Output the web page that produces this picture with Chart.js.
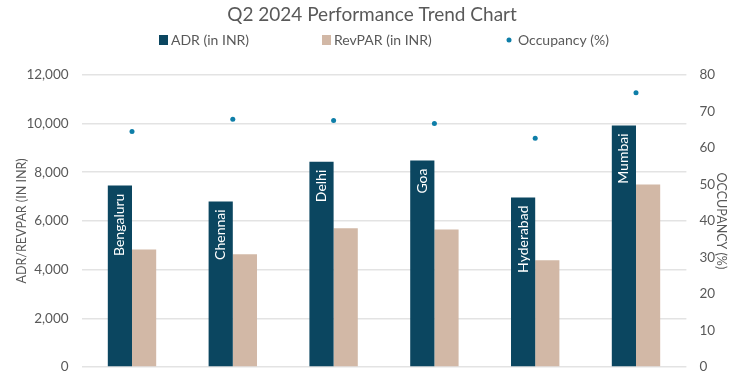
<!DOCTYPE html>
<html><head><meta charset="utf-8">
<script src="https://cdn.jsdelivr.net/npm/chart.js@4.4.1/dist/chart.umd.min.js"></script>
<style>html,body{margin:0;padding:0;background:#fff}#wrap{width:744px;height:380px}</style>
</head><body><div id="wrap"><canvas id="c" width="744" height="380"></canvas></div>
<script>
const categories = ["Bengaluru","Chennai","Delhi","Goa","Hyderabad","Mumbai"];
const adr = [7450, 6800, 8430, 8480, 6960, 9920];
const revpar = [4830, 4630, 5700, 5650, 4380, 7500];
const occupancy = [64.5, 67.8, 67.5, 66.7, 62.6, 75.1];
const leftTicks = [0, 2000, 4000, 6000, 8000, 10000, 12000];
const rightTicks = [0, 10, 20, 30, 40, 50, 60, 70, 80];

const FONT = "Lato";
const GREY = "#595959";

const barLabels = {
  id: "barLabels",
  afterDatasetsDraw(chart) {
    const ctx = chart.ctx;
    const meta = chart.getDatasetMeta(0);
    ctx.save();
    ctx.fillStyle = "#ffffff";
    ctx.font = "14px " + FONT;
    ctx.textAlign = "right";
    ctx.textBaseline = "middle";
    meta.data.forEach((bar, i) => {
      ctx.save();
      ctx.translate(bar.x, bar.y + 8);
      ctx.rotate(-Math.PI / 2);
      ctx.fillText(categories[i], 0, 0);
      ctx.restore();
    });
    ctx.restore();
  }
};

const legendXs = [159, 322, 505];
const customLegend = {
  id: "customLegend",
  afterDraw(chart) {
    const ctx = chart.ctx;
    ctx.save();
    ctx.font = "14px " + FONT;
    ctx.textBaseline = "middle";
    ctx.textAlign = "left";
    const y = 40;
    chart.data.datasets.forEach((ds, i) => {
      const x = legendXs[i];
      ctx.fillStyle = ds.backgroundColor;
      if (i === 2) {
        ctx.beginPath(); ctx.arc(x + 4, y, 2.5, 0, Math.PI * 2); ctx.fill();
        ctx.fillStyle = GREY; ctx.fillText(ds.label, x + 13, y);
      } else {
        ctx.fillRect(x, y - 5, 9, 10);
        ctx.fillStyle = GREY; ctx.fillText(ds.label, x + 12, y);
      }
    });
    ctx.restore();
  }
};

new Chart(document.getElementById("c"), {
  type: "bar",
  data: {
    labels: categories,
    datasets: [
      { label: "ADR (in INR)", data: adr, backgroundColor: "#0b4660", yAxisID: "y", order: 2,
        categoryPercentage: 0.48, barPercentage: 1.0 },
      { label: "RevPAR (in INR)", data: revpar, backgroundColor: "#d2b8a6", yAxisID: "y", order: 2,
        categoryPercentage: 0.48, barPercentage: 1.0 },
      { label: "Occupancy (%)", type: "line", data: occupancy, yAxisID: "y1", showLine: false,
        pointRadius: 2.5, pointBackgroundColor: "#0e7ea8", pointBorderWidth: 0, order: 1,
        backgroundColor: "#0e7ea8", borderColor: "#0e7ea8" }
    ]
  },
  options: {
    responsive: false,
    animation: false,
    layout: { padding: { left: 0, right: 0, top: 3, bottom: 13 } },
    plugins: {
      title: { display: true, text: "Q2 2024 Performance Trend Chart", color: GREY,
        font: { family: FONT, size: 19, weight: "normal" }, padding: { top: 0, bottom: 49 } },
      legend: { display: false },
      tooltip: { enabled: false }
    },
    scales: {
      x: { display: false },
      y: {
        position: "left", min: 0, max: 12000,
        afterBuildTicks(s) { s.ticks = leftTicks.map(v => ({ value: v })); },
        afterFit(s) { s.width = 81.6; s.paddingTop = 0; s.paddingBottom = 0; },
        grid: { color: "#e3e3e3", lineWidth: 1.5, drawTicks: false },
        border: { display: false },
        ticks: { color: GREY, font: { family: FONT, size: 13.5 }, padding: 13,
          callback: v => v.toLocaleString("en-US") },
        title: { display: true, text: "ADR/REVPAR (IN INR)", color: GREY,
          font: { family: FONT, size: 12.5 }, padding: { top: 14, bottom: 0 } }
      },
      y1: {
        position: "right", min: 0, max: 80,
        afterBuildTicks(s) { s.ticks = rightTicks.map(v => ({ value: v })); },
        afterFit(s) { s.width = 57.6; s.paddingTop = 0; s.paddingBottom = 0; },
        grid: { display: false, drawTicks: false },
        border: { display: false },
        ticks: { color: GREY, font: { family: FONT, size: 13.5 }, padding: 13 },
        title: { display: true, text: "OCCUPANCY (%)", color: GREY,
          font: { family: FONT, size: 12.5 }, padding: { top: 15, bottom: 0 } }
      }
    }
  },
  plugins: [barLabels, customLegend]
});
</script></body></html>
